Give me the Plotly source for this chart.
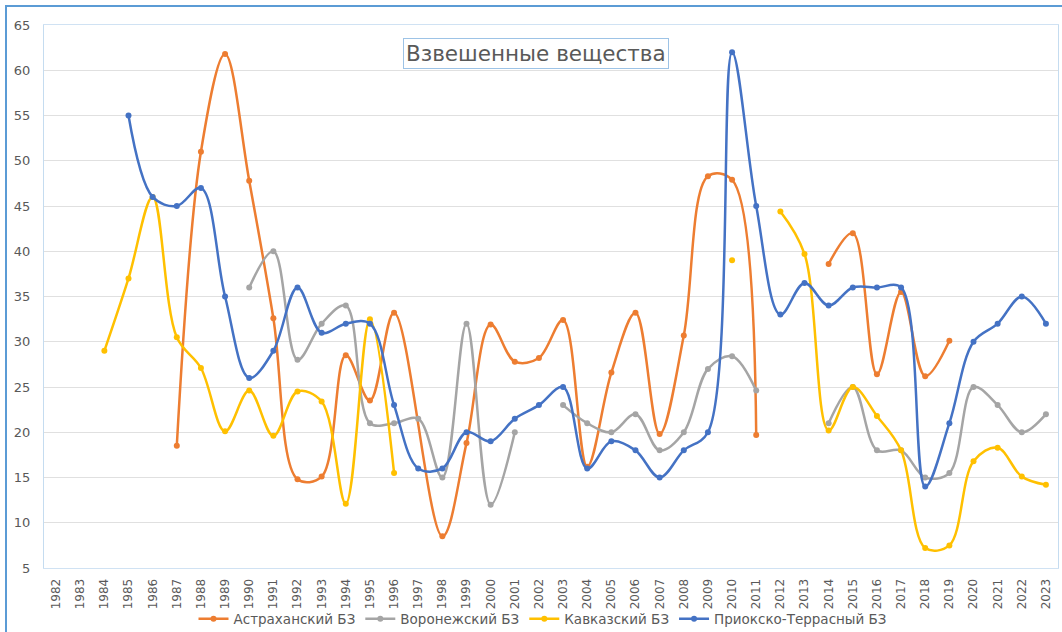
import plotly.graph_objects as go

years = list(range(1982, 2024))

astrakhan = [None, None, None, None, None, 18.5, 51.0, 61.8, 47.8, 32.6,
             14.8, 15.1, 28.5, 23.5, 33.2, None, 8.5, 18.8, 31.9, 27.8,
             28.2, 32.4, 16.2, 26.6, 33.2, 19.8, 30.7, 48.3, 47.9, 19.7,
             None, None, 38.6, 42.0, 26.4, 35.5, 26.2, 30.1, None, None,
             None, None]
voronezh = [None, None, None, None, None, None, None, None, 36.0, 40.0,
            28.0, 32.0, 34.0, 21.0, 21.0, 21.5, 15.0, 32.0, 12.0, 20.0,
            None, 23.0, 21.0, 20.0, 22.0, 18.0, 20.0, 27.0, 28.4, 24.6,
            None, None, 21.0, 25.0, 18.0, 18.0, 15.0, 15.5, 25.0, 23.0,
            20.0, 22.0]
kavkaz = [None, None, 29.0, 37.0, 46.0, 30.5, 27.1, 20.1, 24.6, 19.6,
          24.5, 23.4, 12.1, 32.5, 15.5, None, None, None, None, None,
          None, None, None, None, None, None, None, None, 39.0, None,
          44.4, 39.7, 20.2, 25.0, 21.8, 18.0, 7.2, 7.5, 16.8, 18.3,
          15.1, 14.2]
prioksko = [None, None, None, 55.0, 46.0, 45.0, 47.0, 35.0, 26.0, 29.0,
            36.0, 31.0, 32.0, 32.0, 23.0, 16.0, 16.0, 20.0, 19.0, 21.5,
            23.0, 25.0, 16.0, 19.0, 18.0, 15.0, 18.0, 20.0, 62.0, 45.0,
            33.0, 36.5, 34.0, 36.0, 36.0, 36.0, 14.0, 21.0, 30.0, 32.0,
            35.0, 32.0]

names = ["Астраханский БЗ", "Воронежский БЗ", "Кавказский БЗ", "Приокско-Террасный БЗ"]
colors = ["#ED7D31", "#A5A5A5", "#FFC000", "#4472C4"]
series = [astrakhan, voronezh, kavkaz, prioksko]
# years where the original line is drawn straight through a missing value
bridged = [{1997}, set(), set(), set()]

W, H = 1062, 632
L, R, T, B = 44, 1058, 25, 568
FONT = "DejaVu Sans, Liberation Sans, Arial"


def px(x):
    return (x - L) / (R - L)


def py(y):
    return (B - y) / (B - T)


fig = go.Figure()
for name, color, vals, br in zip(names, colors, series, bridged):
    xs = [yr for yr, v in zip(years, vals) if not (v is None and yr in br)]
    ys = [v for yr, v in zip(years, vals) if not (v is None and yr in br)]
    fig.add_trace(go.Scatter(
        x=xs, y=ys, name=name, mode="lines+markers",
        line=dict(color=color, width=2.5, shape="spline", smoothing=1.0),
        marker=dict(color=color, size=6),
        connectgaps=False,
    ))

fig.add_annotation(
    text="Взвешенные вещества", xref="paper", yref="paper",
    x=px(536), y=py(54), xanchor="center", yanchor="middle",
    showarrow=False, font=dict(family=FONT, size=21.5, color="#595959"),
    bordercolor="#9DC3E6", borderwidth=1, borderpad=2, bgcolor="white",
)

# outer chart frame
fig.add_shape(type="rect", xref="paper", yref="paper",
              x0=px(6), y0=py(700), x1=px(1100), y1=py(6),
              line=dict(color="#5B9BD5", width=2), layer="below")

fig.update_layout(
    width=W, height=H,
    margin=dict(l=L, r=W - R, t=T, b=H - B, autoexpand=False),
    paper_bgcolor="white", plot_bgcolor="white",
    font=dict(family=FONT, color="#595959"),
    showlegend=True,
    legend=dict(orientation="h", x=px(543), xanchor="center",
                y=py(619), yanchor="middle", bgcolor="rgba(0,0,0,0)",
                font=dict(family=FONT, size=13.5, color="#595959"), itemwidth=30,
                tracegroupgap=0),
    xaxis=dict(range=[1981.5, 2023.5], tickmode="array", tickvals=years,
               ticktext=[str(y) for y in years], tickangle=-90,
               tickfont=dict(family=FONT, size=12, color="#595959"), showgrid=False,
               zeroline=False, showline=True, linecolor="#D0E2F3",
               mirror=True, ticks="", ticklabelstandoff=5, automargin=False),
    yaxis=dict(range=[5, 65], tick0=5, dtick=5, showgrid=True,
               gridcolor="#E0E0E0", gridwidth=1, zeroline=False,
               tickfont=dict(family=FONT, size=13, color="#595959"),
               showline=True, linecolor="#C5DCF0", mirror=True,
               ticks="", ticklabelstandoff=10, automargin=False),
)

fig.write_html("out.html", config={"displayModeBar": False},
               post_script="document.body.style.margin='0';")
